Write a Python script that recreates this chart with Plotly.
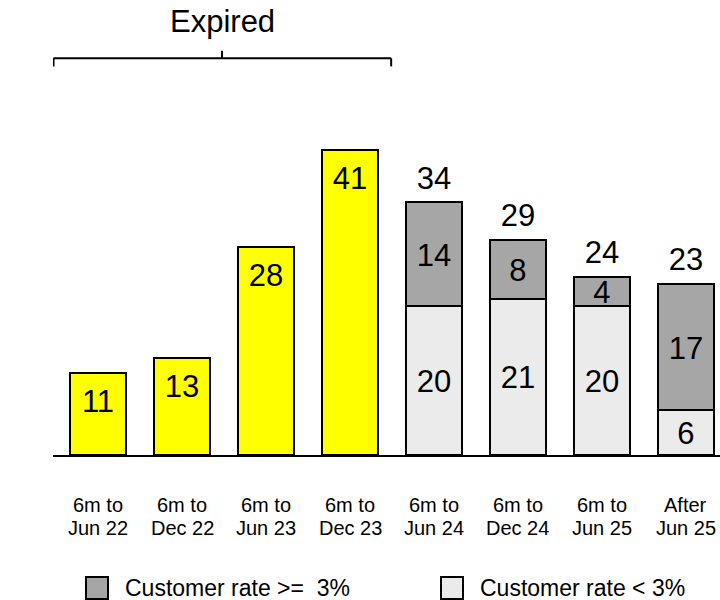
import plotly.graph_objects as go

line1 = ["6m to", "6m to", "6m to", "6m to", "6m to", "6m to", "6m to", "After"]
line2 = ["Jun 22", "Dec 22", "Jun 23", "Dec 23", "Jun 24", "Dec 24", "Jun 25", "Jun 25"]
expired = [11, 13, 28, 41, None, None, None, None]
below_3 = [None, None, None, None, 20, 21, 20, 6]
above_3 = [None, None, None, None, 14, 8, 4, 17]
legend_names = ["Customer rate >=\u00a0 3%", "Customer rate < 3%"]
unit_label = "$bn"
bracket_label = "Expired"

FONT = "Arial, Liberation Sans, sans-serif"
YELLOW = "#FFFF00"
DARK = "#A6A6A6"
LIGHT = "#EBEBEB"
idx = list(range(len(line1)))

# plot-area geometry helpers (pixels -> paper)
L, R, T, B, W, H = 53, 0, 0, 145, 720, 600
PW, PH = W - L - R, H - T - B


def px2x(px):
    return (px - L) / PW


def px2y(py):
    return (H - B - py) / PH


fig = go.Figure()
line = dict(color="black", width=2)
fig.add_bar(x=idx, y=expired, marker=dict(color=YELLOW, line=line), width=0.667, showlegend=False)
fig.add_bar(x=idx, y=below_3, marker=dict(color=LIGHT, line=line), width=0.667, showlegend=False)
fig.add_bar(x=idx, y=above_3, marker=dict(color=DARK, line=line), width=0.667, showlegend=False)

NUMFONT = dict(family=FONT, size=31, color="black")
ex_x = [i for i, v in zip(idx, expired) if v is not None]
ex_v = [v for v in expired if v is not None]
fig.add_scatter(x=ex_x, y=[v - 4.2 for v in ex_v], text=[str(v) for v in ex_v], mode="text",
                textfont=NUMFONT, showlegend=False, cliponaxis=False, hoverinfo="skip")
st_x = [i for i, v in zip(idx, below_3) if v is not None]
lo = [v for v in below_3 if v is not None]
hi = [v for v in above_3 if v is not None]
fig.add_scatter(x=st_x, y=[v / 2 - 0.5 for v in lo], text=[str(v) for v in lo], mode="text",
                textfont=NUMFONT, showlegend=False, cliponaxis=False, hoverinfo="skip")
fig.add_scatter(x=st_x, y=[a + b / 2 - 0.5 for a, b in zip(lo, hi)], text=[str(v) for v in hi], mode="text",
                textfont=NUMFONT, showlegend=False, cliponaxis=False, hoverinfo="skip")
tot = [a + b for a, b in zip(lo, hi)]
fig.add_scatter(x=st_x, y=[t + 2.9 for t in tot], text=[str(t) for t in tot], mode="text",
                textfont=NUMFONT, showlegend=False, cliponaxis=False, hoverinfo="skip")

# category labels (two lines)
for i, a, b in zip(idx, line1, line2):
    fig.add_annotation(x=i, y=px2y(505), yref="paper", text=a, showarrow=False, yanchor="middle",
                       font=dict(family=FONT, size=20, color="black"))
    fig.add_annotation(x=i, y=px2y(528), yref="paper", text=b, showarrow=False, yanchor="middle",
                       font=dict(family=FONT, size=20, color="black"))

# bracket
bl = dict(color="black", width=2)
x0, x1, xc = -0.53, 3.49, 1.476
yb = 53.4
fig.add_shape(type="line", x0=x0, x1=x1, y0=yb, y1=yb, line=bl)
fig.add_shape(type="line", x0=x0, x1=x0, y0=yb, y1=52.3, line=bl)
fig.add_shape(type="line", x0=x1, x1=x1, y0=yb, y1=52.3, line=bl)
fig.add_shape(type="line", x0=xc, x1=xc, y0=yb, y1=54.4, line=bl)
fig.add_annotation(x=xc, y=58.3, text=bracket_label, showarrow=False,
                   font=dict(family=FONT, size=31, color="black"), yanchor="middle")
fig.add_annotation(x=-0.726, y=2.96, text=unit_label, showarrow=False,
                   font=dict(family=FONT, size=23, color="black"), yanchor="middle")

# legend keys (drawn as shapes + text)
legfont = dict(family=FONT, size=23, color="black")
for name, col, sx, tx in zip(legend_names, [DARK, LIGHT], [86, 441], [123, 478]):
    fig.add_shape(type="rect", xref="paper", yref="paper", x0=px2x(sx), x1=px2x(sx + 22),
                  y0=px2y(577), y1=px2y(599), fillcolor=col, line=dict(color="black", width=2))
    fig.add_annotation(xref="paper", yref="paper", x=px2x(tx), y=px2y(588), text=name,
                       showarrow=False, xanchor="left", yanchor="middle", font=legfont)

fig.update_layout(
    width=W, height=H, barmode="stack", plot_bgcolor="white", paper_bgcolor="white",
    margin=dict(l=L, r=R, t=T, b=B), font=dict(family=FONT, color="black"),
    showlegend=False,
)
fig.update_xaxes(range=[-0.536, 7.405], tickvals=idx, showticklabels=False, showline=True,
                 linecolor="black", linewidth=2, showgrid=False, zeroline=False, ticks="")
fig.update_yaxes(range=[0, 61.24], visible=False, showgrid=False, zeroline=False)

fig.write_html("out.html", config={"displayModeBar": False},
               post_script="document.body.style.margin='0';document.body.style.overflow='hidden';")
